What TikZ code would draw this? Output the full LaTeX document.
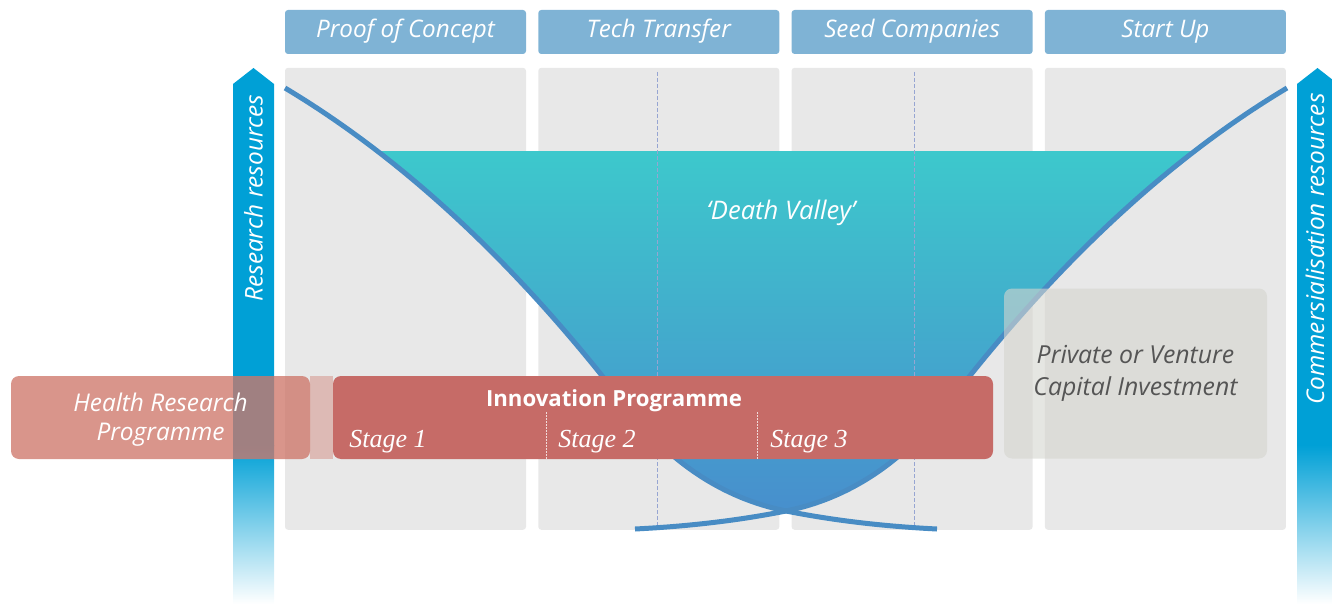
\documentclass[tikz,border=0pt]{standalone}
\usepackage{fontspec}
\setmainfont{Open Sans}
\newfontfamily\stagefont{Liberation Serif}
\usepackage{tikz}
\usetikzlibrary{positioning}
\definecolor{headblue}{RGB}{127,179,213}
\definecolor{panelgray}{RGB}{232,232,232}
\definecolor{arrowblue}{RGB}{0,160,214}
\definecolor{curveblue}{RGB}{72,140,196}
\definecolor{valleytop}{RGB}{61,200,204}
\definecolor{valleybottom}{RGB}{72,140,205}
\definecolor{innored}{RGB}{198,107,103}
\definecolor{healthred}{RGB}{206,119,106}
\definecolor{privgray}{RGB}{212,213,206}
\definecolor{privtext}{RGB}{85,85,85}
\definecolor{dashblue}{RGB}{150,165,210}
\newcommand{\leftslope}{(285,88) .. controls (404.1,159.3) and (517.4,265) .. (625,405) .. controls (669.7,463) and (723.3,498.3) .. (786,511) .. controls (832.5,520.3) and (882.8,526.3) .. (937,529)}
\newcommand{\rightslope}{(1287,88) .. controls (1167.9,159.3) and (1054.6,265) .. (947,405) .. controls (902.3,463) and (848.7,498.3) .. (786,511) .. controls (739.5,520.3) and (689.2,526.3) .. (635,529)}

\begin{document}
\begin{tikzpicture}[x=0.5pt, y=-0.5pt,
headernode/.style={rectangle, rounded corners=1.5pt, fill=headblue, minimum width=120.5pt, minimum height=22pt, inner sep=0pt, text height=7.5pt, text depth=1.5pt, text=white, font=\fontsize{12.1}{14}\selectfont\itshape},
panelnode/.style={rectangle, rounded corners=1.5pt, fill=panelgray, minimum width=120.5pt, minimum height=231pt, inner sep=0pt},
sidetext/.style={text=white, inner sep=0pt, rotate=90, font=\fontsize{12.2}{14}\selectfont\itshape},
curveline/.style={curveblue, line width=2.5pt},
stagedash/.style={dashblue, line width=0.3pt, dash pattern=on 2pt off 1pt},
healthnode/.style={rectangle, rounded corners=4pt, fill=healthred, fill opacity=0.78, minimum width=149.5pt, minimum height=41.5pt, inner sep=0pt},
healthtext/.style={text=white, inner sep=0pt, align=center, font=\fontsize{12.2}{14.5}\selectfont\itshape},
innonode/.style={rectangle, rounded corners=4pt, fill=innored, minimum width=330pt, minimum height=41.5pt, inner sep=0pt},
innotitle/.style={text=white, inner sep=0pt, font=\fontsize{11.1}{13}\selectfont\bfseries},
stagetext/.style={text=white, inner sep=0pt, font=\fontsize{13}{15}\stagefont\itshape},
stagedivider/.style={white!75!innored, line width=0.4pt, dash pattern=on 1pt off 0.5pt},
privnode/.style={rectangle, rounded corners=4pt, fill=privgray, fill opacity=0.6, text opacity=1, minimum width=131.5pt, minimum height=85pt, inner sep=0pt, align=center, text=privtext, font=\fontsize{12.4}{16}\selectfont\itshape},
valleytext/.style={text=white, inner sep=0pt, font=\fontsize{12.8}{14}\selectfont\itshape},
]
\useasboundingbox (0,0) rectangle (1332,604);
\clip (0,0) rectangle (1332,604);

%Nodes
\node[headernode]	(poc)		at (405.5,32)			{Proof of Concept};
\node[headernode]	(tech)		[right=5.75pt of poc]	{Tech Transfer};
\node[headernode]	(seed)		[right=5.75pt of tech]	{Seed Companies};
\node[headernode]	(startup)	[right=5.75pt of seed]	{Start Up};
\node[panelnode]	(pocpanel)		[below=6.5pt of poc]		{};
\node[panelnode]	(techpanel)		[below=6.5pt of tech]		{};
\node[panelnode]	(seedpanel)		[below=6.5pt of seed]		{};
\node[panelnode]	(startpanel)	[below=6.5pt of startup]	{};

%Arrows
\fill[arrowblue] (233,446) -- (233,84) -- (253.5,68) -- (274,84) -- (274,446) -- cycle;
\shade[top color=arrowblue, bottom color=white] (233,445) rectangle (274,604);
\fill[arrowblue] (1297,446) -- (1297,84) -- (1317.5,68) -- (1338,84) -- (1338,446) -- cycle;
\shade[top color=arrowblue, bottom color=white] (1297,445) rectangle (1338,604);
\node[sidetext]	(research)	at (253.5,198)	{Research resources};
\node[sidetext]	(commerce)	at (1315,249)	{Commersialisation resources};

%Valley
\begin{scope}
\clip \leftslope -- (1400,529) -- (1400,0) -- (285,0) -- cycle;
\clip \rightslope -- (170,529) -- (170,0) -- (1287,0) -- cycle;
\fill[top color=valleytop, bottom color=valleybottom] (285,152) rectangle (1287,529);
\end{scope}
\draw[stagedash] (657,72) -- (657,529);
\draw[stagedash] (914,72) -- (914,529);
\node[valleytext]	(valley)	at (781,213)	{‘Death Valley’};

%Lines
\draw[curveline] \leftslope;
\draw[curveline] \rightslope;

%Programmes
\node[privnode]		(private)	at (1135.5,373.5)	{Private or Venture\\Capital Investment};
\fill[healthred, opacity=0.4] (310,376) rectangle (333,459);
\node[healthnode]	(health)	at (160.5,417.5)	{};
\node[healthtext]	(healthlabel)	at (160.5,420)	{Health Research\\Programme};
\node[innonode]		(inno)		at (663,417.5)		{};
\node[innotitle]	(innotitle)	at (614,401)		{Innovation Programme};
\node[stagetext, anchor=base west]	(stage1)	at (349,447)	{Stage 1};
\node[stagetext, anchor=base west]	(stage2)	at (558,447)	{Stage 2};
\node[stagetext, anchor=base west]	(stage3)	at (770,447)	{Stage 3};
\draw[stagedivider] (546,412) -- (546,459);
\draw[stagedivider] (757,412) -- (757,459);
\end{tikzpicture}
\end{document}
